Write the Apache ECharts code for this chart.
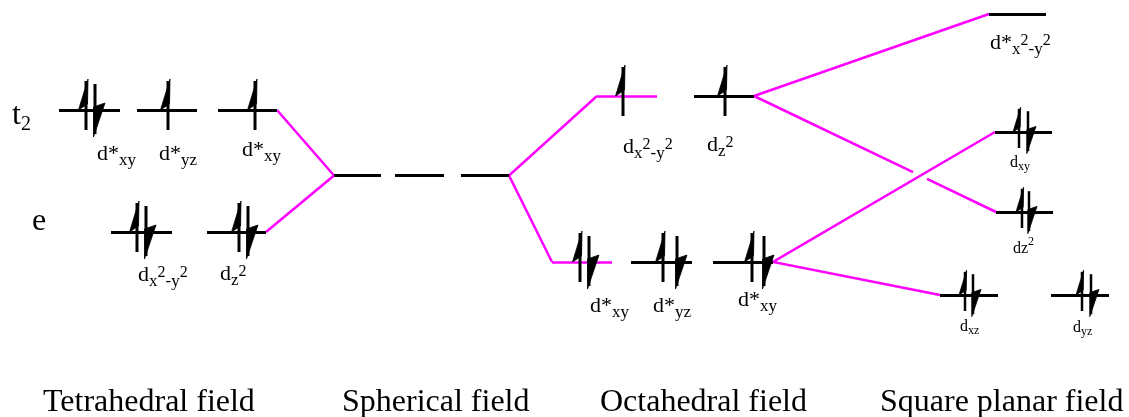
<!DOCTYPE html>
<html><head><meta charset="utf-8">
<script src="https://cdn.jsdelivr.net/npm/echarts@6/dist/echarts.min.js"></script>
<style>html,body{margin:0;padding:0;background:#fff}#c{width:1129px;height:417px}</style>
</head><body><div id="c"></div>
<script>
// ---- data (diagram coordinates: x to the right, energy axis y downward) ----
const levels = [
  [59,120,110],[137,197,110],[218,277,110],
  [111,172,232],[207,266,232],
  [334,381,175.5],[395,444,175.5],[461,509,175.5],
  [694,754,96],
  [631,692,262],[713,773,262],
  [989,1046,14],[995,1052,132],[996,1053,212],[940,998,295],[1051,1109,295]
];
const magentaLevels = [[597,657,96],[552,612,262]];
const connectors = [
  [[277,110],[334,175.5],[266,232]],
  [[597,96],[509,175.5],[552,262]],
  [[754,96],[989,14]],
  [[754,96],[913,172.2]],
  [[927,178.9],[996,212]],
  [[995,132],[773,262],[940,295]]
];
// electrons: [x, level y, spin (1 up, -1 down)]
const electronsMain = [
  [86,110,1],[95,110,-1],[168,110,1],[255,110,1],
  [137,232,1],[146,232,-1],[239,232,1],[248,232,-1],
  [623,96,1],[725,96,1],
  [580,262,1],[589,262,-1],[663,262,1],[677,262,-1],[752,262,1],[764,262,-1]
];
const electronsSquare = [
  [1019,132,1],[1028,132,-1],[1022,212,1],[1029,212,-1],
  [965,295,1],[973,295,-1],[1082,295,1],[1091,295,-1]
];
// labels: [left x, baseline y, text]
const labels = [
  [12,126,'{T|t}{U|2}'],
  [32,232,'{T|e}'],
  [97,162,'{m|d*}{s|xy}'],
  [159,162,'{m|d*}{s|yz}'],
  [242,158,'{m|d*}{s|xy}'],
  [138,283,'{m|d}{s|x}{p|2}{s|-y}{p|2}'],
  [220,282,'{m|d}{s|z}{p|2}'],
  [623,155,'{m|d}{s|x}{p|2}{s|-y}{p|2}'],
  [707,153,'{m|d}{s|z}{p|2}'],
  [590,314,'{m|d*}{s|xy}'],
  [653,314,'{m|d*}{s|yz}'],
  [738,308,'{m|d*}{s|xy}'],
  [990,51,'{m|d*}{s|x}{p|2}{s|-y}{p|2}'],
  [1010,168,'{M|d}{S|xy}'],
  [1013,254,'{M|dz}{P|2}'],
  [960,332,'{M|d}{S|xz}'],
  [1073,333,'{M|d}{S|yz}'],
  [43,413,'{T|Tetrahedral field}'],
  [342,413,'{T|Spherical field}'],
  [600,413,'{T|Octahedral field}'],
  [880,413,'{T|Square planar field}']
];

// ---- styling ----
const FONT = 'Liberation Serif';
const K = 0.3375;
function tok(fm, f, b) {
  const dy = b + K * (fm - f);
  return {fontSize: f, fontFamily: FONT, fill: '#000', verticalAlign: 'middle',
    padding: dy >= 0 ? [2 * dy, 0, 0, 0] : [0, 0, -2 * dy, 0]};
}
const mainSize = {T: 32, m: 22, M: 16};
const rich = {
  T: tok(32, 32, 0), U: tok(32, 20, 5),
  m: tok(22, 22, 0), s: tok(22, 17, 4), p: tok(22, 16, -5),
  M: tok(16, 16, 0), S: tok(16, 12, 3), P: tok(16, 12, -8)
};

function arrowRenderer(s, w) {
  return function (params, api) {
    const p = api.coord([api.value(0), api.value(1)]);
    const x = p[0], y = p[1];
    let stem, head;
    if (api.value(2) > 0) {
      stem = [[x, y - 29 * s], [x, y + 20 * s]];
      head = [[x + 2 * s, y - 31 * s], [x - 7.5 * s, y + 0 * s], [x + 1.5 * s, y - 6 * s]];
    } else {
      stem = [[x, y - 26 * s], [x, y + 24 * s]];
      head = [[x - 1.5 * s, y + 27 * s], [x + 10 * s, y - 7 * s], [x - 1.5 * s, y - 3 * s]];
    }
    return {type: 'group', children: [
      {type: 'polyline', shape: {points: stem}, style: {stroke: '#000', lineWidth: w, fill: null}},
      {type: 'polygon', shape: {points: head}, style: {fill: '#000', stroke: '#000', lineWidth: 0.8}}
    ]};
  };
}

const chart = echarts.init(document.getElementById('c'), null, {renderer: 'canvas'});
chart.setOption({
  animation: false,
  backgroundColor: '#fff',
  grid: {left: 0, right: 0, top: 0, bottom: 0},
  xAxis: {type: 'value', min: 0, max: 1129, show: false},
  yAxis: {type: 'value', min: 0, max: 417, inverse: true, show: false},
  series: [
    {type: 'lines', coordinateSystem: 'cartesian2d', polyline: true, z: 2, silent: true,
     lineStyle: {color: '#ff00ff', width: 2.5, opacity: 1},
     data: connectors.map(c => ({coords: c}))},
    {type: 'lines', coordinateSystem: 'cartesian2d', z: 3, silent: true,
     lineStyle: {color: '#ff00ff', width: 2.5, opacity: 1},
     data: magentaLevels.map(l => ({coords: [[l[0], l[2]], [l[1], l[2]]]}))},
    {type: 'lines', coordinateSystem: 'cartesian2d', z: 3, silent: true,
     lineStyle: {color: '#000', width: 3, opacity: 1},
     data: levels.map(l => ({coords: [[l[0], l[2]], [l[1], l[2]]]}))},
    {type: 'custom', z: 4, silent: true, renderItem: arrowRenderer(1, 3), data: electronsMain},
    {type: 'custom', z: 4, silent: true, renderItem: arrowRenderer(0.8, 2.5), data: electronsSquare},
    {type: 'custom', z: 5, silent: true,
     data: labels.map(l => [l[0], l[1]]),
     renderItem: function (params, api) {
       const row = labels[params.dataIndex];
       const p = api.coord([row[0], row[1]]);
       const fm = mainSize[row[2].charAt(1)];
       return {type: 'text', x: p[0], y: p[1] - K * fm,
         style: {text: row[2], rich: rich, align: 'left', verticalAlign: 'middle',
                 fill: '#000', fontFamily: FONT, fontSize: fm}};
     }}
  ]
});
</script></body></html>
